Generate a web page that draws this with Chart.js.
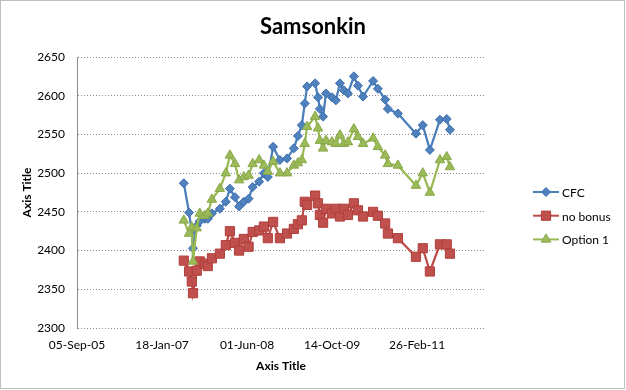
<!DOCTYPE html>
<html>
<head>
<meta charset="utf-8">
<script src="https://cdn.jsdelivr.net/npm/chart.js@4.4.0/dist/chart.umd.min.js"></script>
<style>
  html, body { margin: 0; padding: 0; background: #fff; }
  #wrap { width: 626px; height: 390px; position: relative; }
</style>
</head>
<body>
<div id="wrap"><canvas id="chart" width="626" height="390"></canvas></div>
<script>
// dates of the points
const dates = [
  '2007-05-26', '2007-06-26', '2007-07-12', '2007-07-19', '2007-08-10', '2007-08-28',
  '2007-09-26', '2007-10-14', '2007-11-07', '2007-12-24', '2008-01-28', '2008-02-21',
  '2008-03-22', '2008-04-15', '2008-05-13', '2008-06-10', '2008-07-04', '2008-08-11',
  '2008-09-08', '2008-10-01', '2008-11-01', '2008-12-11', '2009-01-22', '2009-03-03',
  '2009-03-27', '2009-04-19', '2009-05-06', '2009-05-20', '2009-07-06', '2009-07-23',
  '2009-08-03', '2009-08-22', '2009-09-08', '2009-10-13', '2009-11-05', '2009-11-29',
  '2009-12-22', '2010-01-15', '2010-02-19', '2010-03-15', '2010-04-14', '2010-06-12',
  '2010-07-10', '2010-08-22', '2010-09-07', '2010-11-05', '2011-02-19', '2011-03-31',
  '2011-05-12', '2011-07-10', '2011-08-19', '2011-09-07'
];
const cfc = [
  2487, 2449, 2425, 2403, 2432, 2438, 2441, 2441, 2448, 2454, 2463, 2480,
  2469, 2457, 2463, 2467, 2482, 2489, 2500, 2495, 2534, 2517, 2519, 2532,
  2548, 2562, 2590, 2612, 2616, 2598, 2583, 2573, 2603, 2598, 2594, 2616,
  2607, 2603, 2625, 2613, 2599, 2619, 2609, 2595, 2583, 2577, 2551, 2562,
  2530, 2569, 2570, 2556
];
const noBonus = [
  2387, 2373, 2360, 2345, 2374, 2386, 2383, 2380, 2390, 2396, 2407, 2425,
  2410, 2400, 2415, 2405, 2424, 2426, 2431, 2416, 2437, 2416, 2422, 2428,
  2434, 2439, 2463, 2459, 2471, 2461, 2446, 2436, 2454, 2448, 2454, 2444,
  2454, 2446, 2461, 2452, 2444, 2450, 2445, 2435, 2422, 2416, 2392, 2403,
  2373, 2408, 2408, 2396
];
const option1 = [
  2439, 2422, 2430, 2386, 2429, 2448, 2445, 2448, 2466, 2480, 2500, 2523,
  2512, 2491, 2495, 2497, 2512, 2517, 2510, 2502, 2515, 2500, 2500, 2510,
  2513, 2517, 2538, 2560, 2573, 2558, 2542, 2532, 2542, 2540, 2538, 2549,
  2538, 2540, 2557, 2547, 2538, 2545, 2534, 2523, 2512, 2510, 2484, 2500,
  2475, 2517, 2521, 2508
];
const seriesNames = ['CFC', 'no bonus', 'Option 1'];

// date axis ticks (every 500 days) and its end
const xTickDates = ['2005-09-05', '2007-01-18', '2008-06-01', '2009-10-14', '2011-02-26'];
const xMax = '2012-03-31';
const yTicks = [2300, 2350, 2400, 2450, 2500, 2550, 2600, 2650];

const MONTHS = ['Jan', 'Feb', 'Mar', 'Apr', 'May', 'Jun', 'Jul', 'Aug', 'Sep', 'Oct', 'Nov', 'Dec'];
const EPOCH = Date.UTC(1899, 11, 30);

// date string -> day number (same as Excel serial)
function toSerial(iso) {
    const p = iso.split('-').map(Number);
    return Math.round((Date.UTC(p[0], p[1] - 1, p[2]) - EPOCH) / 86400000);
}

function fmtDate(serial) {
    const d = new Date(EPOCH + serial * 86400000);
    const dd = String(d.getUTCDate()).padStart(2, '0');
    const yy = String(d.getUTCFullYear() % 100).padStart(2, '0');
    return dd + '-' + MONTHS[d.getUTCMonth()] + '-' + yy;
}

const xs = dates.map(toSerial);
const xTickVals = xTickDates.map(toSerial);

function points(values) {
    return values.map((v, i) => ({ x: xs[i], y: v }));
}

const FONT = 'Lato, "DejaVu Sans", sans-serif';

// dotted frame round the whole chart
const framePlugin = {
    id: 'frame',
    beforeDraw(chart) {
        const c = chart.ctx;
        c.save();
        c.fillStyle = '#fff';
        c.fillRect(0, 0, chart.width, chart.height);
        c.strokeStyle = '#7f7f7f';
        c.lineWidth = 1;
        c.setLineDash([1, 1]);
        c.strokeRect(0.5, 0.5, chart.width - 2, chart.height - 2);
        c.restore();
    }
};

// Excel-like legend: short line with the marker in the middle
const legendPlugin = {
    id: 'sideLegend',
    afterDraw(chart) {
        const c = chart.ctx;
        const left = 533, lineLen = 26, top = 192, gap = 23.7;
        c.save();
        chart.data.datasets.forEach((ds, i) => {
            const y = top + i * gap;
            c.setLineDash([]);
            c.strokeStyle = ds.borderColor;
            c.lineWidth = 2;
            c.beginPath();
            c.moveTo(left, y);
            c.lineTo(left + lineLen, y);
            c.stroke();
            c.fillStyle = ds.pointBackgroundColor;
            c.strokeStyle = ds.pointBorderColor;
            c.lineWidth = 1;
            Chart.helpers.drawPoint(c, {
                pointStyle: ds.pointStyle,
                radius: ds.pointRadius,
                rotation: 0,
                borderWidth: 1
            }, left + lineLen / 2, y);
            c.fillStyle = '#000';
            c.font = '12px ' + FONT;
            c.textAlign = 'left';
            c.textBaseline = 'middle';
            c.fillText(ds.label, left + lineLen + 3, y + 1);
        });
        c.restore();
    }
};

const ctx = document.getElementById('chart').getContext('2d');
const chart = new Chart(ctx, {
    type: 'line',
    data: {
        datasets: [
            {
                label: seriesNames[0],
                data: points(cfc),
                borderColor: '#4a7ebb',
                borderWidth: 2.25,
                pointStyle: 'rectRot',
                pointRadius: 4.5,
                pointBackgroundColor: '#4f81bd',
                pointBorderColor: '#3d6fb0',
                pointBorderWidth: 1,
                order: 3
            },
            {
                label: seriesNames[1],
                data: points(noBonus),
                borderColor: '#be4b48',
                borderWidth: 2.25,
                pointStyle: 'rect',
                pointRadius: 6.5,
                pointBackgroundColor: '#c0504d',
                pointBorderColor: '#b03e3b',
                pointBorderWidth: 1,
                order: 2
            },
            {
                label: seriesNames[2],
                data: points(option1),
                borderColor: '#98b954',
                borderWidth: 2.25,
                pointStyle: 'triangle',
                pointRadius: 5.5,
                pointBackgroundColor: '#9bbb59',
                pointBorderColor: '#88a848',
                pointBorderWidth: 1,
                order: 1
            }
        ]
    },
    options: {
        responsive: false,
        animation: false,
        layout: { padding: 0 },
        elements: { line: { tension: 0 } },
        plugins: {
            legend: { display: false },
            tooltip: { enabled: false },
            title: {
                display: true,
                text: 'Samsonkin',
                color: '#000',
                font: { family: FONT, size: 22, weight: 'bold' },
                padding: { top: 14, bottom: 16.6 }
            }
        },
        scales: {
            x: {
                type: 'linear',
                min: xTickVals[0],
                max: toSerial(xMax),
                afterBuildTicks(scale) {
                    scale.ticks = xTickVals.map(v => ({ value: v }));
                },
                afterFit(scale) { scale.height = 62; },
                ticks: {
                    autoSkip: false,
                    maxRotation: 0,
                    padding: 10,
                    color: '#000',
                    font: { family: FONT, size: 12 },
                    callback: (v) => fmtDate(v)
                },
                grid: { display: false, drawTicks: false },
                border: { display: false },
                title: {
                    display: true,
                    text: 'Axis Title',
                    color: '#000',
                    font: { family: FONT, size: 12, weight: 'bold' },
                    padding: { top: 0, bottom: 17 }
                }
            },
            y: {
                min: yTicks[0],
                max: yTicks[yTicks.length - 1],
                afterBuildTicks(scale) {
                    scale.ticks = yTicks.map(v => ({ value: v }));
                },
                afterFit(scale) { scale.width = 77; },
                ticks: {
                    padding: 12,
                    color: '#000',
                    font: { family: FONT, size: 12 },
                    callback: (v) => String(v)
                },
                grid: {
                    color: '#8c8c8c',
                    lineWidth: 1,
                    drawTicks: false
                },
                border: { display: true, color: '#8c8c8c', width: 1, dash: [1, 2] },
                title: {
                    display: true,
                    text: 'Axis Title',
                    color: '#000',
                    font: { family: FONT, size: 12, weight: 'bold' },
                    padding: { top: 20, bottom: 0 }
                }
            },
            // empty right axis keeps room for the legend
            legendSpace: {
                axis: 'y',
                position: 'right',
                display: true,
                afterFit(scale) { scale.width = 141; },
                ticks: { display: false },
                grid: { display: false, drawTicks: false },
                border: { display: false }
            }
        }
    },
    plugins: [framePlugin, legendPlugin]
});
</script>
</body>
</html>
